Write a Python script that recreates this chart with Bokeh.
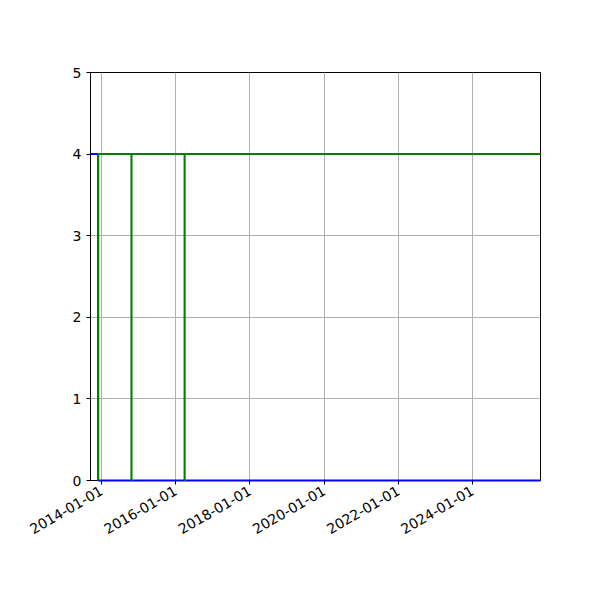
from datetime import datetime
import numpy as np
import pandas as pd
from bokeh.plotting import figure
from bokeh.models import Range1d, FixedTicker, DatetimeTickFormatter, ColumnDataSource
from bokeh.embed import file_html
from bokeh.resources import INLINE

# Data
times = ["2013-09-14", "2013-11-28", "2013-11-28",
         "2014-10-22", "2014-10-22", "2014-10-23", "2014-10-23",
         "2016-03-28", "2016-03-28", "2016-03-29", "2016-03-29", "2025-10-31"]
blue_values = [4, 4, 0,
               0, 0, 0, 0,
               0, 0, 0, 0, 0]
green_values = [np.nan, 0, 4,
                4, 0, 0, 4,
                4, 0, 0, 4, 4]
x_tick_dates = ["2014-01-01", "2016-01-01", "2018-01-01", "2020-01-01", "2022-01-01", "2024-01-01"]
y_ticks = [0, 1, 2, 3, 4, 5]

t = pd.to_datetime(times)
src = ColumnDataSource(dict(t=t, blue=blue_values, green=green_values))

p = figure(width=600, height=600, output_backend="svg", toolbar_location=None,
           x_axis_type="datetime",
           x_range=Range1d(datetime(2013, 9, 14), datetime(2025, 10, 31)),
           y_range=Range1d(0, 5),
           min_border_left=90, min_border_right=60, min_border_top=72, min_border_bottom=120)

p.line("t", "blue", source=src, line_color="#0000ff", line_width=2, level="overlay")
p.line("t", "green", source=src, line_color="#008000", line_width=2, level="overlay")

tick_ms = [pd.Timestamp(d).value / 1e6 for d in x_tick_dates]
p.xaxis.ticker = FixedTicker(ticks=tick_ms)
p.xaxis.formatter = DatetimeTickFormatter(years="%Y-%m-%d", months="%Y-%m-%d", days="%Y-%m-%d")
p.xaxis.major_label_orientation = 0.5236
p.yaxis.ticker = FixedTicker(ticks=y_ticks)

for ax in (p.xaxis, p.yaxis):
    ax.major_label_text_font = "DejaVu Sans"
    ax.major_label_text_font_size = "14px"
    ax.major_label_text_color = "black"
    ax.major_tick_in = 0
    ax.major_tick_out = 4
    ax.minor_tick_line_color = None
    ax.axis_line_color = "black"
    ax.major_tick_line_color = "black"

p.xgrid.grid_line_color = "#b0b0b0"
p.ygrid.grid_line_color = "#b0b0b0"
p.xgrid.grid_line_width = 1
p.ygrid.grid_line_width = 1
p.outline_line_color = "black"
p.outline_line_alpha = 1
p.outline_line_width = 1
p.background_fill_color = "white"
p.border_fill_color = "white"

open("out.html", "w").write(file_html(p, INLINE))
